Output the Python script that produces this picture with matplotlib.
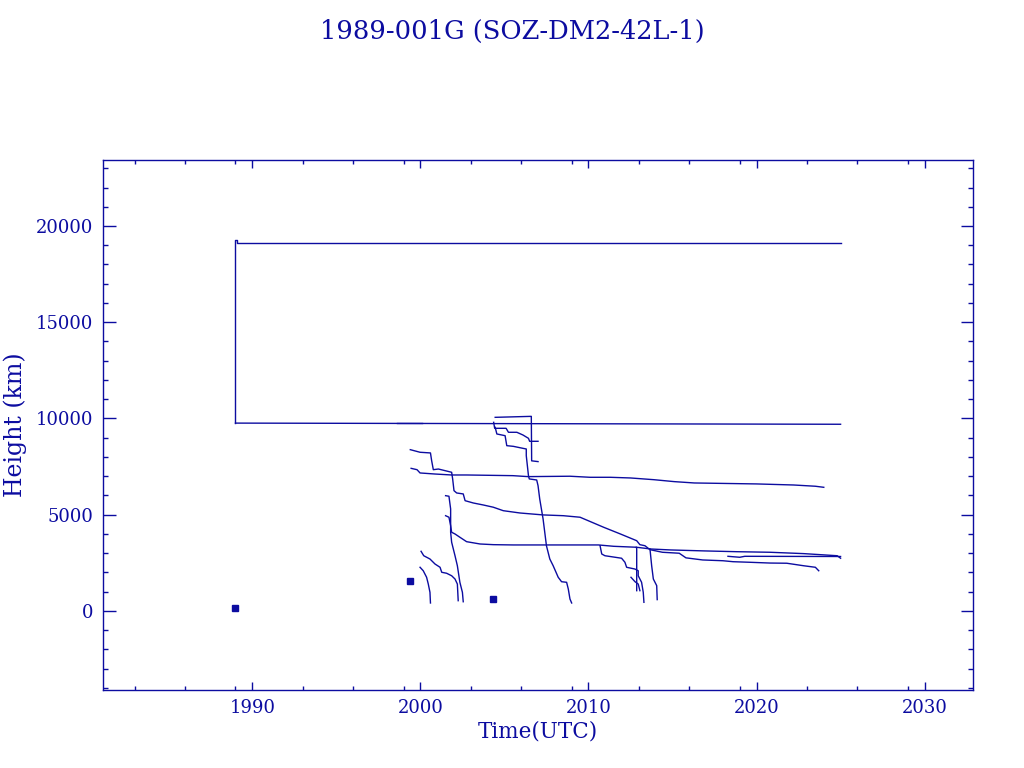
import matplotlib
matplotlib.use('Agg')
import matplotlib.pyplot as plt
from matplotlib.ticker import FixedLocator, MultipleLocator

blue = '#0c0ca0'   # IDL-ish dark blue used for everything

# ---- data (year, height km) ----
apogee_t = [1989.0, 1989.0, 1989.06, 1989.06, 2025.0]
apogee_h = [9750, 19270, 19270, 19100, 19100]
perigee_t = [1989.0, 2025.0]
perigee_h = [9760, 9700]
perigee2_t = [1998.6, 2000.1]
perigee2_h = [9790, 9790]

deb_a_t = [2004.45, 2006.56, 2006.6, 2006.62, 2007.0]
deb_a_h = [10060, 10110, 10110, 7800, 7760]

deb_b_t = [2004.36, 2004.42, 2005.1, 2005.24, 2005.74, 2006.1, 2006.43, 2006.5, 2007.0]
deb_b_h = [9800, 9490, 9490, 9283, 9283, 9143, 8970, 8815, 8815]

deb_c_t = [2004.45, 2004.55, 2005.04, 2005.14, 2005.53, 2006.1, 2006.3, 2006.3, 2006.43, 2006.48,
           2006.92, 2007.0, 2007.1, 2007.3, 2007.5, 2007.7, 2007.9, 2008.2, 2008.4, 2008.7,
           2008.8, 2008.9, 2009.0]
deb_c_h = [9540, 9195, 9107, 8588, 8553, 8450, 8416, 8068, 7030, 6860,
           6805, 6510, 5820, 4780, 3390, 2700, 2350, 1750, 1520, 1490,
           1140, 620, 415]

deb_d_t = [1999.4, 1999.98, 2000.6, 2000.67, 2000.77, 2001.07, 2001.56, 2001.86, 2001.92, 2002.0,
           2002.16, 2002.55, 2002.66, 2003.15, 2003.74, 2004.34, 2004.93, 2005.93, 2007.3, 2008.5,
           2009.5, 2010.9, 2011.9, 2012.87, 2013.06, 2013.36, 2013.66, 2014.4, 2015.4, 2015.8,
           2016.8, 2018.0, 2018.6, 2019.6, 2020.8, 2021.8, 2022.8, 2023.5, 2023.7]
deb_d_h = [8380, 8245, 8210, 7810, 7340, 7375, 7270, 7205, 6860, 6250,
           6130, 6080, 5730, 5610, 5507, 5390, 5210, 5090, 4990, 4950,
           4870, 4350, 4000, 3650, 3445, 3390, 3185, 3050, 3000, 2760,
           2650, 2610, 2560, 2530, 2490, 2480, 2350, 2270, 2090]

deb_e_t = [1999.45, 1999.8, 1999.98, 2000.87, 2001.86, 2002.75, 2005.5, 2006.4, 2008.9, 2010.1,
           2011.3, 2012.5, 2013.9, 2015.1, 2016.3, 2020.0, 2022.2, 2023.5, 2024.0]
deb_e_h = [7410, 7340, 7170, 7115, 7065, 7065, 7030, 6980, 7000, 6945,
           6945, 6910, 6820, 6720, 6650, 6600, 6545, 6480, 6425]

deb_f_t = [2001.5, 2001.7, 2001.8, 2001.8, 2001.86, 2002.06, 2002.2, 2002.35, 2002.5, 2002.55]
deb_f_h = [5990, 5960, 5300, 4090, 3570, 2870, 2350, 1490, 970, 480]

deb_g_t = [2001.5, 2001.7, 2001.8, 2001.86, 2002.06, 2002.35, 2002.75, 2003.55, 2004.34, 2005.53,
           2009.5, 2010.6, 2011.5, 2012.87, 2013.7, 2014.9, 2016.9, 2018.8, 2020.8, 2022.8,
           2024.8, 2025.0]
deb_g_h = [4950, 4870, 4430, 4090, 4000, 3830, 3600, 3480, 3445, 3430,
           3430, 3430, 3360, 3310, 3220, 3170, 3120, 3080, 3050, 2980,
           2870, 2740]

deb_h_t = [2010.69, 2010.79, 2010.98, 2011.97, 2012.17, 2012.27, 2012.76, 2012.96, 2012.96, 2013.16,
           2013.26, 2013.3]
deb_h_h = [3390, 2960, 2870, 2740, 2530, 2270, 2180, 2090, 1830, 1490, 970, 450]

deb_i_t = [2012.53, 2012.77, 2012.96, 2013.06]
deb_i_h = [1750, 1520, 1400, 1055]

deb_j_t = [2012.84, 2012.87, 2012.87]
deb_j_h = [3310, 3250, 1055]

deb_k_t = [2013.66, 2013.76, 2013.86, 2014.06, 2014.09]
deb_k_h = [3220, 2350, 1660, 1315, 590]

deb_m_t = [2000.04, 2000.2, 2000.57, 2000.87, 2001.17, 2001.27, 2001.56, 2001.86, 2002.06, 2002.2, 2002.25]
deb_m_h = [3100, 2870, 2700, 2440, 2270, 2010, 1960, 1830, 1660, 1400, 535]

deb_n_t = [1999.98, 2000.17, 2000.37, 2000.47, 2000.57, 2000.6]
deb_n_h = [2270, 2090, 1750, 1400, 970, 415]

deb_o_t = [2018.3, 2019.0, 2019.3, 2025.0]
deb_o_h = [2840, 2790, 2840, 2830]

point_t = [1989.0, 1999.38, 2004.32]
point_h = [155, 1560, 620]

x_major = [1990, 2000, 2010, 2020, 2030]
x_minor = [1983, 1986, 1989, 1993, 1996, 1999, 2003, 2006, 2009, 2013, 2016, 2019, 2023, 2026, 2029]
y_major = [0, 5000, 10000, 15000, 20000]

plt.rcParams['font.family'] = ['DejaVu Serif']

fig = plt.figure(figsize=(10.24, 7.68), dpi=100)
ax = fig.add_axes([0.1003, 0.1022, 0.8496, 0.6895])

lines = [(apogee_t, apogee_h), (perigee_t, perigee_h), (perigee2_t, perigee2_h),
         (deb_a_t, deb_a_h), (deb_b_t, deb_b_h), (deb_c_t, deb_c_h), (deb_d_t, deb_d_h),
         (deb_e_t, deb_e_h), (deb_f_t, deb_f_h), (deb_g_t, deb_g_h), (deb_h_t, deb_h_h),
         (deb_i_t, deb_i_h), (deb_j_t, deb_j_h), (deb_k_t, deb_k_h), (deb_m_t, deb_m_h),
         (deb_n_t, deb_n_h), (deb_o_t, deb_o_h)]
for t, h in lines:
    ax.plot(t, h, color=blue, lw=1.0)

ax.plot(point_t, point_h, ls='none', marker='s', ms=4.5, color=blue, mfc=blue)

ax.set_xlim(1981.1, 2032.86)
ax.set_ylim(-4080, 23430)

ax.xaxis.set_major_locator(FixedLocator(x_major))
ax.xaxis.set_minor_locator(FixedLocator(x_minor))
ax.yaxis.set_major_locator(FixedLocator(y_major))
ax.yaxis.set_minor_locator(MultipleLocator(1000))

ax.tick_params(which='both', direction='in', top=True, right=True, colors=blue, width=1.0)
ax.tick_params(axis='x', which='major', length=6, pad=7, labelsize=13)
ax.tick_params(axis='x', which='minor', length=2.7)
ax.tick_params(axis='y', which='major', length=9, pad=7, labelsize=13)
ax.tick_params(axis='y', which='minor', length=3.8)
for sp in ax.spines.values():
    sp.set_color(blue)
    sp.set_linewidth(1.0)

ax.set_xlabel('Time(UTC)', color=blue, fontsize=15.5, labelpad=2)
ax.set_ylabel('Height (km)', color=blue, fontsize=17, labelpad=6)
fig.text(0.5, 0.959, '1989-001G (SOZ-DM2-42L-1)', color=blue, fontsize=18.5, ha='center', va='center')

fig.savefig('out.png', dpi=100)
